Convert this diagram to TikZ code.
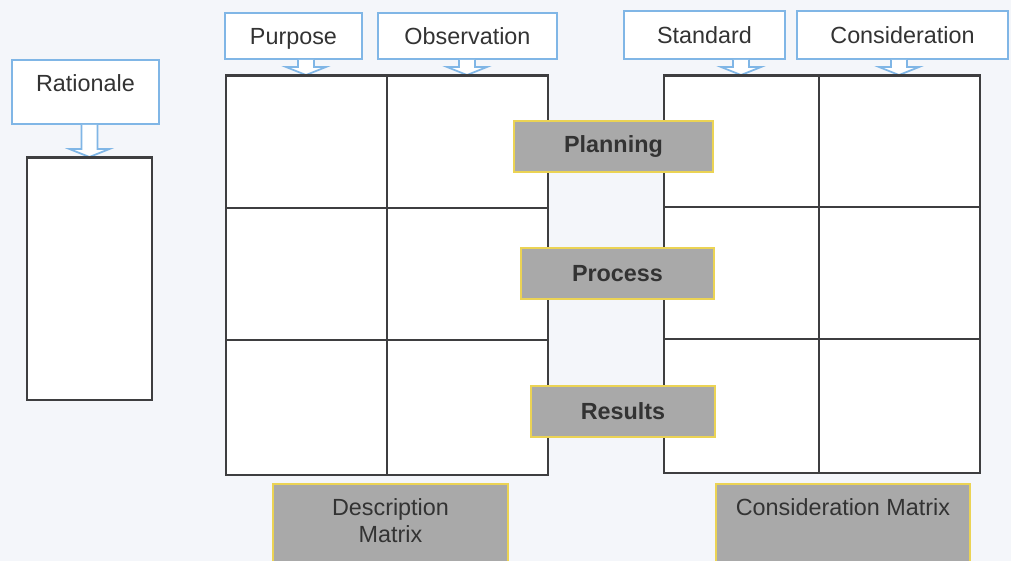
\documentclass[tikz,border=0pt]{standalone}
\usepackage{fontspec}
\setmainfont{Liberation Sans}
\usetikzlibrary{calc}
\definecolor{bluebd}{HTML}{80B6E6}
\definecolor{grayfill}{HTML}{A9A9A9}
\definecolor{yellowbd}{HTML}{EBD354}
\definecolor{gridln}{HTML}{3E3E40}
\definecolor{txt}{HTML}{333333}
\definecolor{bg}{HTML}{F4F6FA}
\newcommand\hollowarrow[2]{%
  \draw[hollowarrow] ($(#1)+(-8,0)$) -- ($(#2)+(-8,-8)$) -- ($(#2)+(-20,-8)$)
    -- (#2) -- ($(#2)+(20,-8)$) -- ($(#2)+(8,-8)$) -- ($(#1)+(8,0)$);}
\begin{document}
\begin{tikzpicture}[x=0.02cm,y=-0.02cm,
  every node/.style={font=\fontsize{13.3}{15.4}\selectfont, text=txt},
  span/.style n args={4}{anchor=north west, at={(#1,#2)},
     minimum width={(#3-#1)*0.02cm}, minimum height={(#4-#2)*0.02cm}},
  bluebox/.style={draw=bluebd, line width=1.1pt, fill=white, inner sep=0pt},
  graybox/.style={draw=yellowbd, line width=1.1pt, fill=grayfill, inner sep=0pt},
  stagebox/.style={graybox, font=\fontsize{13.3}{15.4}\selectfont\bfseries},
  gridbox/.style={draw=gridln, line width=1.1pt, fill=white, inner sep=0pt},
  gridline/.style={draw=gridln, line width=1.1pt},
  hollowarrow/.style={draw=bluebd, line width=1pt, fill=white, line join=miter},
]
\useasboundingbox (0,0) rectangle (1011,561);
\clip (0,0) rectangle (1011,561);
\fill[bg] (0,0) rectangle (1011,561);

% label boxes
\node[bluebox, span={11}{59}{158}{123}, text depth=0.36cm] (rationale) {Rationale};
\node[bluebox, span={224}{12}{361}{58}, text depth=0pt] (purpose) {Purpose};
\node[bluebox, span={377}{12}{556}{58}] (observation) {Observation};
\node[bluebox, span={623}{10}{784}{58}] (standard) {Standard};
\node[bluebox, span={796}{10}{1007}{58}] (consideration) {Consideration};

% frames
\node[gridbox, span={26}{157}{151}{399}] (ratbox) {};
\node[gridbox, span={225}{75}{547}{474}] (descmx) {};
\node[gridbox, span={663}{75}{979}{472}] (consmx) {};

% column centres
\coordinate (c0) at (ratbox.north);
\coordinate (c1) at (306,75);
\coordinate (c2) at (467,75);
\coordinate (c3) at (741,75);
\coordinate (c4) at (899,75);

% arrows
\hollowarrow{c0 |- rationale.south}{c0}
\hollowarrow{c1 |- purpose.south}{c1}
\hollowarrow{c2 |- observation.south}{c2}
\hollowarrow{c3 |- standard.south}{c3}
\hollowarrow{c4 |- consideration.south}{c4}

% grid lines (over the arrow tips)
\draw[gridline] (descmx.north west) -- (descmx.north east);
\draw[gridline] (consmx.north west) -- (consmx.north east);
\draw[gridline] (ratbox.north west) -- (ratbox.north east);
\draw[gridline] (387,75) -- (387,474);
\draw[gridline] (225,208) -- (547,208);
\draw[gridline] (225,340) -- (547,340);
\draw[gridline] (819,75) -- (819,472);
\draw[gridline] (663,207) -- (979,207);
\draw[gridline] (663,339) -- (979,339);

% stage labels
\node[stagebox, span={513}{120}{712}{171}] (planning) {Planning};
\node[stagebox, span={520}{247}{713}{298}] (process) {Process};
\node[stagebox, span={530}{385}{714}{436}] (results) {Results};

% matrix titles
\node[graybox, span={272}{483}{507}{600}, align=center, text height=1cm, text depth=1cm] (desctitle) {Description\\Matrix};
\node[graybox, span={715}{483}{969}{600}, text height=0.34cm, text depth=1.424cm] (constitle) {Consideration Matrix};
\end{tikzpicture}
\end{document}
